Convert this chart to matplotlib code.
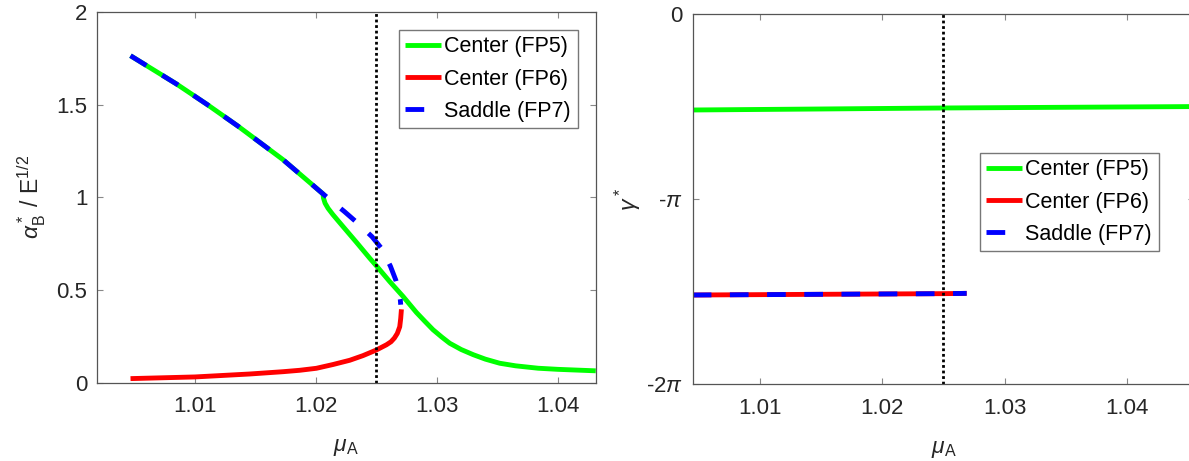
import numpy as np
import matplotlib
matplotlib.use("Agg")
import matplotlib.pyplot as plt

plt.rcParams['font.family'] = ['Liberation Sans', 'DejaVu Sans']
plt.rcParams['mathtext.fontset'] = 'custom'
plt.rcParams['mathtext.rm'] = 'Liberation Sans'
plt.rcParams['mathtext.it'] = 'Liberation Sans:italic'
plt.rcParams['mathtext.sf'] = 'Liberation Sans'

# ---------------- data ----------------
# Left panel: alpha_B* / E^(1/2) versus mu_A
fp5_mu = [1.00467, 1.00848, 1.01102, 1.01357, 1.01727, 1.02001, 1.02058,
          1.02062, 1.02075, 1.02100, 1.02140, 1.02223, 1.02334, 1.02444, 1.02504,
          1.02609, 1.02719, 1.02830, 1.02900, 1.02967, 1.03040, 1.03105, 1.03200,
          1.03300, 1.03400, 1.03518, 1.03650, 1.03836, 1.04000, 1.04312]
fp5_alpha = [1.764, 1.611, 1.500, 1.383, 1.203, 1.050, 1.018,
             0.995, 0.968, 0.940, 0.906, 0.842, 0.757, 0.671, 0.626,
             0.545, 0.465, 0.378, 0.330, 0.285, 0.245, 0.212, 0.178,
             0.150, 0.126, 0.104, 0.090, 0.077, 0.071, 0.063]

fp6_mu = [1.00467, 1.01000, 1.01452, 1.01727, 1.01865, 1.02003, 1.02140, 1.02279,
          1.02388, 1.02499, 1.02582, 1.02620, 1.02648, 1.02672, 1.02692, 1.02700,
          1.02706]
fp6_alpha = [0.021, 0.030, 0.0459, 0.0583, 0.0659, 0.0767, 0.097, 0.1200,
             0.1450, 0.1755, 0.2035, 0.220, 0.240, 0.265, 0.301, 0.345,
             0.395]

fp7_mu = [1.00467, 1.00848, 1.01102, 1.01357, 1.01727, 1.02001, 1.02058, 1.02236,
          1.02350, 1.02463, 1.02540, 1.02615, 1.02660, 1.02685, 1.02697, 1.02700]
fp7_alpha = [1.764, 1.611, 1.500, 1.383, 1.203, 1.050, 1.018, 0.922,
             0.857, 0.787, 0.725, 0.628, 0.552, 0.490, 0.445, 0.420]

# Right panel: gamma* versus mu_A
fp5_mu_r = [1.0045, 1.015, 1.025, 1.035, 1.0455]
fp5_gamma = [-1.630, -1.613, -1.596, -1.584, -1.572]
fp67_mu_r = [1.0045, 1.015, 1.025, 1.0269]
fp67_gamma = [-4.772, -4.760, -4.749, -4.744]

mu_marker = 1.025
labels = ['Center (FP5)', 'Center (FP6)', 'Saddle (FP7)']
colors = ['#00ff00', '#ff0000', '#0000ff']

xticks = [1.01, 1.02, 1.03, 1.04]
xticklabels = ['1.01', '1.02', '1.03', '1.04']
yticks_l = [0, 0.5, 1, 1.5, 2]
yticklabels_l = ['0', '0.5', '1', '1.5', '2']
yticks_r = [-2 * np.pi, -np.pi, 0]
yticklabels_r = [r'-2$\pi$', r'-$\pi$', '0']

# ---------------- figure ----------------
W, H = 1189, 461
fig = plt.figure(figsize=(W / 100, H / 100), dpi=100)

ax1 = fig.add_axes([97 / W, (H - 382.5) / H, 498.5 / W, 370.5 / H])
ax2 = fig.add_axes([692.7 / W, (H - 384) / H, 501.4 / W, 370 / H])

LW = 3.5
dash = (0, (3.85, 3.8))
spine_c = '#555555'
text_c = '#262626'

# left panel
ax1.plot(fp5_mu, fp5_alpha, color=colors[0], lw=LW, label=labels[0], solid_capstyle='butt')
ax1.plot(fp6_mu, fp6_alpha, color=colors[1], lw=LW, label=labels[1], solid_capstyle='butt')
ax1.plot(fp7_mu, fp7_alpha, color=colors[2], lw=LW, ls=dash, label=labels[2])
ax1.axvline(mu_marker, color='black', ls=(0, (1, 1)), lw=2)
ax1.set_xlim(1.0019, 1.0431)
ax1.set_ylim(0, 2)
ax1.set_yticks(yticks_l)
ax1.set_yticklabels(yticklabels_l)
ax1.set_ylabel(r'$\alpha^*_{\rm B}$ / E$^{1/2}$', fontsize=16.5, color=text_c, labelpad=6)

# right panel
ax2.plot(fp5_mu_r, fp5_gamma, color=colors[0], lw=LW, label=labels[0], solid_capstyle='butt')
ax2.plot(fp67_mu_r, fp67_gamma, color=colors[1], lw=LW, label=labels[1], solid_capstyle='butt')
ax2.plot(fp67_mu_r, fp67_gamma, color=colors[2], lw=LW, ls=dash, label=labels[2])
ax2.axvline(mu_marker, color='black', ls=(0, (1, 1)), lw=2)
ax2.set_xlim(1.0045, 1.0455)
ax2.set_ylim(-2 * np.pi, 0)
ax2.set_yticks(yticks_r)
ax2.set_yticklabels(yticklabels_r)
ax2.set_ylabel(r'$\gamma^*$', fontsize=16.5, color=text_c, labelpad=2, rotation=90)

for ax in (ax1, ax2):
    ax.set_xticks(xticks)
    ax.set_xticklabels(xticklabels)
    ax.set_xlabel(r'$\mu_{\rm A}$', fontsize=16.5, color=text_c, labelpad=13)
    ax.tick_params(direction='in', length=4, width=0.8, color='#888888',
                   labelsize=16, labelcolor=text_c, top=True, right=True, pad=7)
    ax.tick_params(axis='x', pad=10)
    for s in ax.spines.values():
        s.set_color(spine_c)
        s.set_linewidth(0.9)

leg_kw = dict(fontsize=15.5, frameon=True, fancybox=False, framealpha=1,
              edgecolor='#777777', handlelength=1.63, handletextpad=0.18,
              labelspacing=0.52, borderpad=0.3, borderaxespad=0, loc='upper left')
l1 = ax1.legend(bbox_to_anchor=((399 - 97) / 498.5, (382.5 - 30) / 370.5), **leg_kw)
l2 = ax2.legend(bbox_to_anchor=((980 - 692.7) / 501.4, (384 - 153) / 370), **leg_kw)
for l in (l1, l2):
    l.get_frame().set_linewidth(1.0)
    for t in l.get_texts():
        t.set_color('black')

fig.savefig('out.png', dpi=100)
